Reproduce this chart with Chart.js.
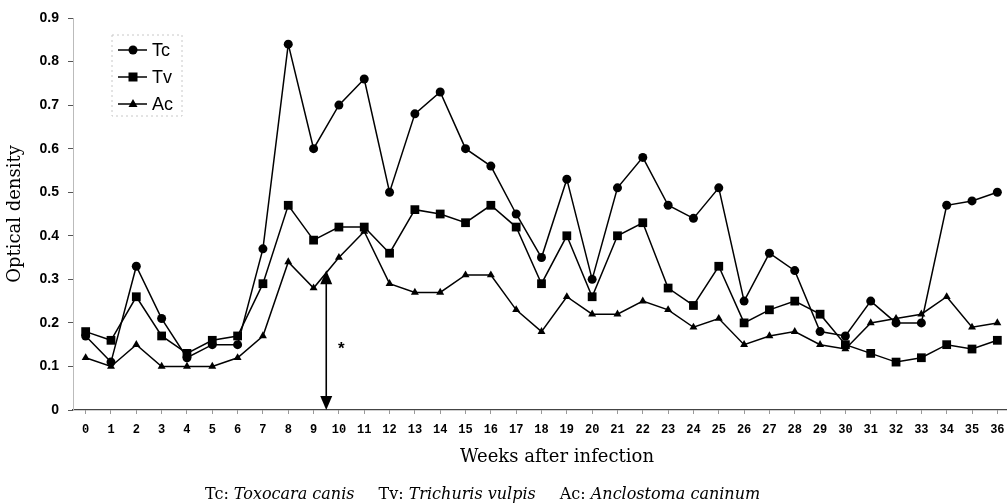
<!DOCTYPE html>
<html>
<head>
<meta charset="utf-8">
<title>Optical density after infection</title>
<script src="https://cdn.jsdelivr.net/npm/chart.js@4.4.0/dist/chart.umd.min.js"></script>
<style>
  html, body { margin: 0; padding: 0; background: #fff; overflow: hidden; }
  #wrap { width: 1030px; height: 504px; }
</style>
</head>
<body>
<div id="wrap"><canvas id="odChart" width="1030" height="504"></canvas></div>
<script>
// weeks after infection (x axis)
const weeks = [0, 1, 2, 3, 4, 5, 6, 7, 8, 9, 10, 11, 12, 13, 14, 15, 16, 17, 18,
               19, 20, 21, 22, 23, 24, 25, 26, 27, 28, 29, 30, 31, 32, 33, 34, 35, 36];

// Tc: Toxocara canis
const tcValues = [0.17, 0.11, 0.33, 0.21, 0.12, 0.15, 0.15, 0.37, 0.84, 0.60, 0.70, 0.76, 0.50,
                  0.68, 0.73, 0.60, 0.56, 0.45, 0.35, 0.53, 0.30, 0.51, 0.58, 0.47, 0.44, 0.51,
                  0.25, 0.36, 0.32, 0.18, 0.17, 0.25, 0.20, 0.20, 0.47, 0.48, 0.50];
// Tv: Trichuris vulpis
const tvValues = [0.18, 0.16, 0.26, 0.17, 0.13, 0.16, 0.17, 0.29, 0.47, 0.39, 0.42, 0.42, 0.36,
                  0.46, 0.45, 0.43, 0.47, 0.42, 0.29, 0.40, 0.26, 0.40, 0.43, 0.28, 0.24, 0.33,
                  0.20, 0.23, 0.25, 0.22, 0.15, 0.13, 0.11, 0.12, 0.15, 0.14, 0.16];
// Ac: Anclostoma caninum
const acValues = [0.12, 0.10, 0.15, 0.10, 0.10, 0.10, 0.12, 0.17, 0.34, 0.28, 0.35, 0.41, 0.29,
                  0.27, 0.27, 0.31, 0.31, 0.23, 0.18, 0.26, 0.22, 0.22, 0.25, 0.23, 0.19, 0.21,
                  0.15, 0.17, 0.18, 0.15, 0.14, 0.20, 0.21, 0.22, 0.26, 0.19, 0.20];

const seriesNames = ['Tc', 'Tv', 'Ac'];
const yTicks = [0, 0.1, 0.2, 0.3, 0.4, 0.5, 0.6, 0.7, 0.8, 0.9];

// the double arrow marking week 9.5
const arrowWeek = 9.5;
const arrowTop = 0.305;

const caption = [
    ['Tc: ', false], ['Toxocara canis', true],
    ['Tv: ', false], ['Trichuris vulpis', true],
    ['Ac: ', false], ['Anclostoma caninum', true]
];

function toPoints(values) {
    return weeks.map((w, i) => ({ x: w, y: values[i] }));
}

function drawMarker(ctx, style, x, y) {
    ctx.beginPath();
    if (style === 'circle') {
        ctx.arc(x, y, 4.5, 0, Math.PI * 2);
    } else if (style === 'rect') {
        ctx.rect(x - 4.5, y - 4.5, 9, 9);
    } else {
        ctx.moveTo(x, y - 5);
        ctx.lineTo(x - 4.5, y + 3);
        ctx.lineTo(x + 4.5, y + 3);
        ctx.closePath();
    }
    ctx.fill();
}

const serif = '"DejaVu Serif", "Liberation Serif", serif';

const extrasPlugin = {
    id: 'extras',
    afterDraw(chart) {
        const { ctx, chartArea } = chart;
        const xs = chart.scales.x;
        const ys = chart.scales.y;
        ctx.save();

        // arrow
        const ax = xs.getPixelForValue(arrowWeek);
        const top = ys.getPixelForValue(arrowTop);
        const bot = ys.getPixelForValue(0);
        ctx.strokeStyle = '#000';
        ctx.fillStyle = '#000';
        ctx.lineWidth = 1.6;
        ctx.beginPath();
        ctx.moveTo(ax, top + 6);
        ctx.lineTo(ax, bot - 12);
        ctx.stroke();
        ctx.beginPath();
        ctx.moveTo(ax, top - 7);
        ctx.lineTo(ax - 6, top + 7);
        ctx.lineTo(ax + 6, top + 7);
        ctx.closePath();
        ctx.fill();
        ctx.beginPath();
        ctx.moveTo(ax, bot);
        ctx.lineTo(ax - 6, bot - 14);
        ctx.lineTo(ax + 6, bot - 14);
        ctx.closePath();
        ctx.fill();
        ctx.font = 'bold 17px "Liberation Sans", Arial, sans-serif';
        ctx.textAlign = 'center';
        ctx.textBaseline = 'middle';
        ctx.fillText('*', ax + 15, (top + bot) / 2 + 6);

        // legend box
        const lx = 112, ly = 35;
        ctx.strokeStyle = '#c8c8c8';
        ctx.lineWidth = 1;
        ctx.setLineDash([2, 3]);
        ctx.strokeRect(lx, ly, 70, 81);
        ctx.setLineDash([]);
        const styles = ['circle', 'rect', 'triangle'];
        ctx.font = '18px "Liberation Sans", Arial, sans-serif';
        ctx.textAlign = 'left';
        seriesNames.forEach((name, i) => {
            const ry = ly + 15 + i * 27;
            ctx.strokeStyle = '#000';
            ctx.lineWidth = 1.5;
            ctx.beginPath();
            ctx.moveTo(lx + 6, ry);
            ctx.lineTo(lx + 35, ry);
            ctx.stroke();
            drawMarker(ctx, styles[i], lx + 21, ry);
            ctx.fillText(name, lx + 40, ry + 1);
        });

        // axis titles
        ctx.font = '18px ' + serif;
        ctx.textAlign = 'center';
        ctx.fillText('Weeks after infection', 557, 457);
        ctx.save();
        ctx.translate(15, (chartArea.top + chartArea.bottom) / 2);
        ctx.rotate(-Math.PI / 2);
        ctx.fillText('Optical density', 0, 0);
        ctx.restore();

        // caption, fitted between x=205 and x=760
        const gap = 24;
        const left = 205, right = 760;
        const fontFor = (it, size) => (it ? 'italic ' : '') + size + 'px ' + serif;
        let base = 0;
        caption.forEach(([t, it]) => {
            ctx.font = fontFor(it, 16);
            base += ctx.measureText(t).width;
        });
        const size = Math.min(18, 16 * (right - left - 2 * gap) / base);
        let px = left;
        ctx.textAlign = 'left';
        ctx.textBaseline = 'alphabetic';
        caption.forEach(([t, it], i) => {
            ctx.font = fontFor(it, size.toFixed(2));
            ctx.fillText(t, px, 499);
            px += ctx.measureText(t).width + (it ? gap : 0);
        });

        ctx.restore();
    }
};

const lineStyle = {
    borderColor: '#000',
    backgroundColor: '#000',
    borderWidth: 1.5,
    pointBorderWidth: 0,
    pointHoverRadius: 5,
    tension: 0,
    fill: false
};

const ctx = document.getElementById('odChart').getContext('2d');
new Chart(ctx, {
    type: 'line',
    data: {
        datasets: [
            { ...lineStyle, label: seriesNames[0], data: toPoints(tcValues), pointStyle: 'circle', pointRadius: 4.5 },
            { ...lineStyle, label: seriesNames[1], data: toPoints(tvValues), pointStyle: 'rect', pointRadius: 6.2 },
            { ...lineStyle, label: seriesNames[2], data: toPoints(acValues), pointStyle: 'triangle', pointRadius: 4.6 }
        ]
    },
    options: {
        responsive: false,
        animation: false,
        layout: { padding: { top: 18, right: 20, left: 0, bottom: 0 } },
        plugins: {
            legend: { display: false },
            tooltip: { enabled: false }
        },
        scales: {
            x: {
                type: 'linear',
                min: -0.5,
                max: 36.5,
                afterBuildTicks: (axis) => { axis.ticks = weeks.map(v => ({ value: v })); },
                afterFit: (axis) => { axis.height = 94; },
                grid: { drawOnChartArea: false, drawTicks: true, tickLength: 4, color: '#999' },
                border: { color: '#444', width: 1.3 },
                ticks: {
                    autoSkip: false,
                    maxRotation: 0,
                    padding: 9,
                    color: '#000',
                    font: { family: '"Liberation Mono", "DejaVu Sans Mono", monospace', size: 12, weight: 'bold' },
                    callback: (v) => String(v)
                }
            },
            y: {
                min: 0,
                max: 0.9,
                afterBuildTicks: (axis) => { axis.ticks = yTicks.map(v => ({ value: v })); },
                afterFit: (axis) => { axis.width = 73; },
                grid: { drawOnChartArea: false, drawTicks: true, tickLength: 5, color: '#555' },
                border: { color: '#bbb', dash: [2, 3] },
                ticks: {
                    padding: 9,
                    color: '#000',
                    font: { family: '"Liberation Sans", Arial, sans-serif', size: 14, weight: 'bold' },
                    callback: (v) => (v === 0 ? '0' : v.toFixed(1))
                }
            }
        }
    },
    plugins: [extrasPlugin]
});
</script>
</body>
</html>
